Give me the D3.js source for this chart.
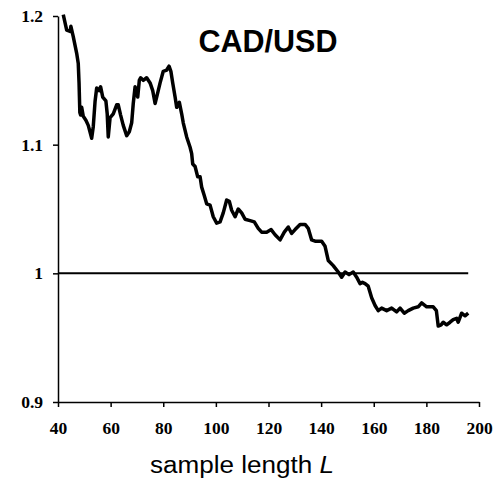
<!DOCTYPE html>
<html>
<head>
<meta charset="utf-8">
<script src="https://cdn.jsdelivr.net/npm/d3@7"></script>
<style>
  body { margin: 0; background: white; }
  svg { display: block; }
</style>
</head>
<body>
<div id="chart"></div>
<script>
// sample length L and the CAD/USD ratio
const sampleLength = [42, 43.3, 44.6, 44.9, 45.8, 47.1, 47.7, 48, 48.3, 48.6, 49, 49.6, 50.6, 51.5, 52.8, 53.4, 54.1, 54.7, 55.6, 56.2,
  57, 58.2, 58.7, 59.1, 59.8, 61, 62.3, 62.9, 63.8, 64.8, 66.1, 67.1, 68, 68.6, 69.3, 70.3, 70.9, 71.4, 72.4, 73.7,
  75, 76, 76.9, 77.5, 78.8, 80, 81.3, 82.2, 82.9, 83.6, 84.5, 85.1, 86.1, 87, 87.6, 88.9, 90.2, 90.8, 91.2, 92.1,
  93.1, 94, 94.6, 95.5, 96.5, 97.8, 99, 100.3, 101.6, 102.8, 104.1, 105.1, 106, 107.3, 108.5, 109.8, 111.1, 113, 114.6, 116.1,
  117.4, 119.3, 121, 122.5, 124.4, 126, 127.5, 128.8, 130.1, 132, 133.9, 135.1, 136.4, 137.7, 140.2, 141.5, 142.7, 144.6, 146.5, 147.8,
  149.1, 150.6, 152.2, 153.5, 154.8, 155.7, 156.7, 157.9, 159.2, 160.5, 161.7, 163, 164.9, 166.8, 168.7, 170, 171.6, 173.1, 175, 176.9,
  178.2, 180.1, 182.6, 183.8, 184.5, 185.6, 186.4, 187.7, 189, 190.2, 191.5, 192.1, 193.4, 194.7, 195.9];
const ratio = [1.201, 1.189, 1.188, 1.192, 1.184, 1.171, 1.163, 1.148, 1.125, 1.123, 1.129, 1.122, 1.119, 1.115, 1.105, 1.114, 1.134, 1.144, 1.142, 1.145,
  1.137, 1.134, 1.124, 1.106, 1.121, 1.124, 1.131, 1.131, 1.123, 1.115, 1.107, 1.110, 1.117, 1.132, 1.145, 1.137, 1.150, 1.152, 1.150, 1.152,
  1.148, 1.142, 1.132, 1.137, 1.148, 1.157, 1.158, 1.161, 1.157, 1.148, 1.137, 1.129, 1.133, 1.124, 1.117, 1.106, 1.098, 1.093, 1.085, 1.083,
  1.075, 1.075, 1.067, 1.061, 1.054, 1.053, 1.044, 1.039, 1.040, 1.047, 1.057, 1.056, 1.049, 1.044, 1.050, 1.047, 1.042, 1.041, 1.040, 1.035,
  1.032, 1.032, 1.034, 1.030, 1.026, 1.032, 1.036, 1.031, 1.034, 1.038, 1.038, 1.035, 1.026, 1.025, 1.025, 1.021, 1.010, 1.006, 1.001, 0.997,
  1.001, 0.999, 1.001, 0.997, 0.992, 0.993, 0.992, 0.990, 0.981, 0.975, 0.971, 0.973, 0.971, 0.973, 0.970, 0.973, 0.969, 0.971, 0.973, 0.974,
  0.977, 0.974, 0.974, 0.971, 0.959, 0.960, 0.962, 0.960, 0.962, 0.964, 0.965, 0.962, 0.969, 0.967, 0.969];
const xTicks = [40, 60, 80, 100, 120, 140, 160, 180, 200];
const yTicks = [0.9, 1, 1.1, 1.2];
const refLevel = 1;
const title = "CAD/USD";

const width = 495, height = 478;
const margin = {top: 16, right: 16, bottom: 76, left: 58};

const x = d3.scaleLinear().domain([40, 200]).range([margin.left, width - margin.right]);
const y = d3.scaleLinear().domain([0.9, 1.2]).range([height - margin.bottom, margin.top]);

const svg = d3.select("#chart").append("svg")
  .attr("width", width)
  .attr("height", height);

// reference line at 1
svg.append("line")
  .attr("x1", x(40)).attr("x2", x(d3.max(sampleLength)))
  .attr("y1", y(refLevel)).attr("y2", y(refLevel))
  .attr("stroke", "#000").attr("stroke-width", 2);

// axes
const xAxis = svg.append("g")
  .attr("transform", `translate(0,${y(0.9)})`)
  .call(d3.axisBottom(x).tickValues(xTicks).tickFormat(d3.format("d")).tickSizeInner(5).tickSizeOuter(0).tickPadding(15));

const yAxis = svg.append("g")
  .attr("transform", `translate(${x(40)},0)`)
  .call(d3.axisLeft(y).tickValues(yTicks).tickFormat(d => d === 1 ? "1" : d3.format(".1f")(d)).tickSizeInner(5).tickSizeOuter(0).tickPadding(10));

[xAxis, yAxis].forEach(g => {
  g.select(".domain").attr("stroke", "#000").attr("stroke-width", 1.5);
  g.selectAll(".tick line").attr("stroke", "#000").attr("stroke-width", 1.5);
  g.selectAll(".tick text")
    .attr("fill", "#000")
    .style("font", "bold 17.5px 'Liberation Serif', 'Times New Roman', serif");
});

// data line
const line = d3.line()
  .x((d, i) => x(sampleLength[i]))
  .y(d => y(d));

svg.append("path")
  .datum(ratio)
  .attr("fill", "none")
  .attr("stroke", "#000")
  .attr("stroke-width", 3.5)
  .attr("stroke-linejoin", "round")
  .attr("d", line);

// title
svg.append("text")
  .attr("x", 268).attr("y", 52)
  .attr("text-anchor", "middle")
  .style("font", "bold 30.5px 'Liberation Sans', Arial, sans-serif")
  .text(title);

// x axis title (stretched a little wider, like the original)
const xt = svg.append("text")
  .attr("x", 150).attr("y", 473)
  .attr("textLength", 184)
  .attr("lengthAdjust", "spacingAndGlyphs")
  .style("font", "23px 'Liberation Sans', Arial, sans-serif");
xt.append("tspan").text("sample length ");
xt.append("tspan").style("font-style", "italic").text("L");
</script>
</body>
</html>
